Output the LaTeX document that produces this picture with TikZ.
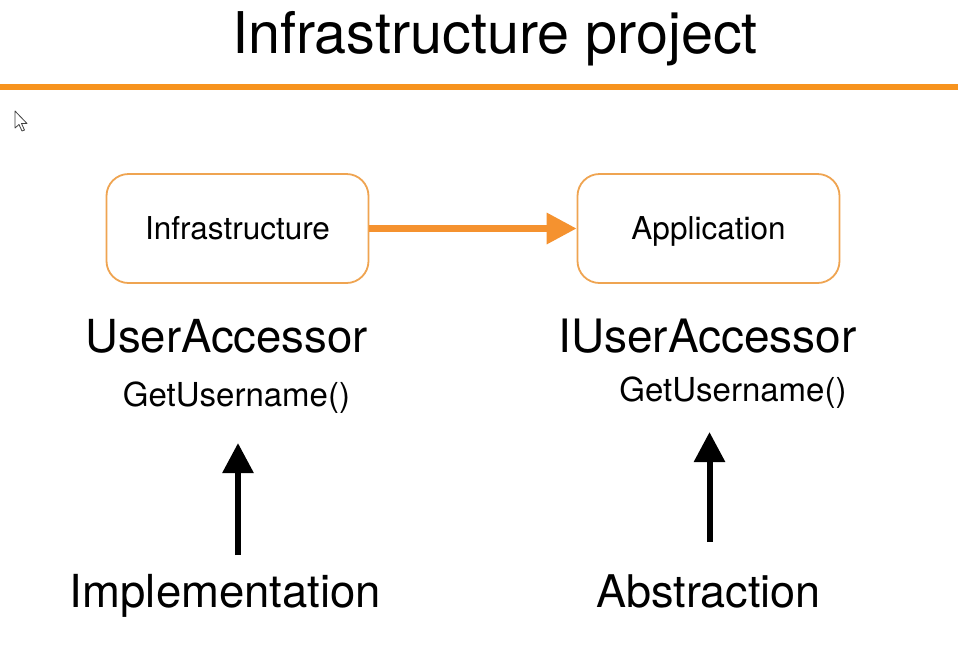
\documentclass[tikz,border=0pt]{standalone}
\usepackage{fontspec}
\setmainfont{TeX Gyre Heros}
\usetikzlibrary{arrows.meta}
\definecolor{orangeline}{HTML}{F7931E}
\definecolor{boxborder}{HTML}{EFA451}
\definecolor{arroworange}{HTML}{F5922F}
\begin{document}
\begin{tikzpicture}[x=1pt,y=-1pt,
  lbl/.style={anchor=base,inner sep=0pt,text=black},
  layerbox/.style={draw=boxborder,line width=1.8pt,rounded corners=22pt,fill=white,
    minimum width=262pt,minimum height=109pt,inner sep=0pt,
    font=\fontsize{31.5}{34}\selectfont,text height=22.5pt,text depth=0pt},
  deparrow/.style={draw=arroworange,line width=6.5pt,-{Triangle[length=30pt,width=30pt]}},
  uparrow/.style={draw=black,line width=6pt,-{Triangle[length=30pt,width=30pt]}}
]
\fill[white] (0,0) rectangle (958,657);
\useasboundingbox (0,0) rectangle (958,657);

% title and rule
\node[lbl,font=\fontsize{57.5}{60}\selectfont] (title) at (495,53) {Infrastructure project};
\coordinate (ruleL) at (0,87);
\coordinate (ruleR) at (958,87);
\draw[orangeline,line width=6pt] (ruleL) -- (ruleR);

% mouse cursor
\draw[fill=white,draw=black!75,line width=0.8pt,line join=round]
  (15,111) -- (15,128) -- (19,124.5) -- (22,131) -- (24.5,130) -- (21.5,123.5) -- (27,123.5) -- cycle;

% boxes
\node[layerbox] (infra) at (237.5,228.5) {Infrastructure};
\node[layerbox] (app) at (708.5,228.5) {Application};
\draw[deparrow] (infra.east) -- (app.west);

% labels
\node[lbl,font=\fontsize{45.5}{48}\selectfont] (ua) at (226.5,352) {UserAccessor};
\node[lbl,font=\fontsize{33}{36}\selectfont] (gl) at (236.5,406) {GetUsername()};
\node[lbl,font=\fontsize{46}{48}\selectfont] (iua) at (707.5,352) {IUserAccessor};
\node[lbl,font=\fontsize{33}{36}\selectfont] (gr) at (733,401) {GetUsername()};
\node[lbl,font=\fontsize{45.5}{48}\selectfont] (impl) at (225.5,607) {Implementation};
\node[lbl,font=\fontsize{45}{48}\selectfont] (abs) at (708.5,607) {Abstraction};

% up arrows
\coordinate (implTop) at (238,555);
\coordinate (implTip) at (238,443);
\coordinate (absTop) at (709.5,542);
\coordinate (absTip) at (709.5,432);
\draw[uparrow] (implTop) -- (implTip);
\draw[uparrow] (absTop) -- (absTip);
\end{tikzpicture}
\end{document}
